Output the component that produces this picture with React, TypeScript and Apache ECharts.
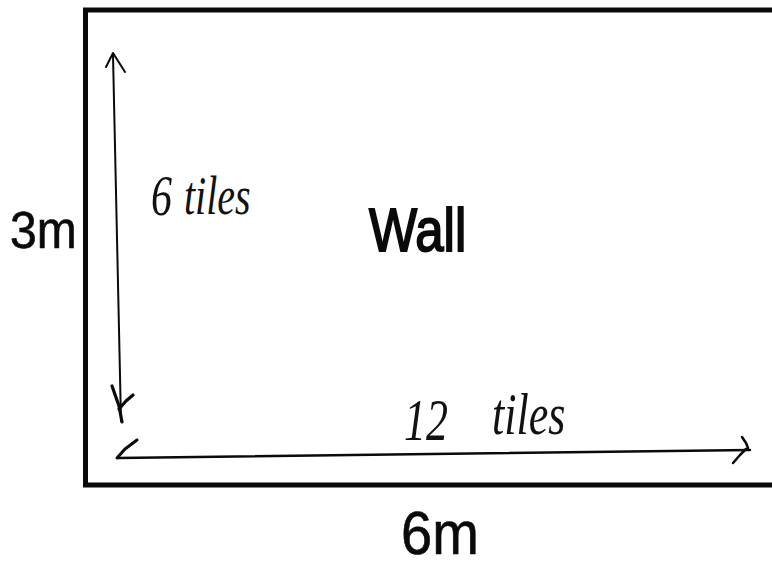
import React, { useEffect, useRef } from "react";
import * as echarts from "echarts";

// Diagram content
const wallLabel = ["Wall"];
const dimensionLabels = ["3m", "6m"]; // height, width
const tileCounts = [6, 12]; // vertical, horizontal
const tileWord = ["tiles"];

export default function App() {
  const ref = useRef<HTMLDivElement>(null);

  useEffect(() => {
    document.body.style.margin = "0";
    const chart = echarts.init(ref.current!, null, { renderer: "svg" });
    const ink = "#0a0a0a";
    const hand = "#111";
    const sans = "'Liberation Sans', Arial, sans-serif";
    const script = "'Liberation Serif', serif";

    const line = (x1: number, y1: number, x2: number, y2: number, w: number, c = ink) => ({
      type: "line",
      shape: { x1, y1, x2, y2 },
      style: { stroke: c, lineWidth: w, lineCap: "round" },
      silent: true,
    });
    const poly = (pts: number[][], w: number, c = ink) => ({
      type: "polyline",
      shape: { points: pts },
      style: { stroke: c, lineWidth: w, lineCap: "round", lineJoin: "round", fill: "none" },
      silent: true,
    });
    const txt = (
      s: string,
      x: number,
      y: number,
      size: number,
      family: string,
      opts: any = {}
    ) => ({
      type: "text",
      x,
      y,
      scaleX: opts.scaleX ?? 1,
      scaleY: opts.scaleY ?? 1,
      style: {
        text: s,
        fill: opts.fill ?? ink,
        font: `${opts.italic ? "italic " : ""}${opts.weight ?? "normal"} ${size}px ${family}`,
        textAlign: opts.align ?? "left",
        textVerticalAlign: "middle",
        stroke: opts.stroke ? ink : undefined,
        lineWidth: opts.stroke ?? 0,
      },
      silent: true,
    });

    chart.setOption({
      animation: false,
      backgroundColor: "#ffffff",
      graphic: [
        // Wall outline (right edge runs off the page)
        {
          type: "rect",
          shape: { x: 85.5, y: 10, width: 800, height: 475 },
          style: { stroke: ink, lineWidth: 5, fill: "none" },
          silent: true,
        },
        // vertical arrow
        line(113, 55, 121, 421, 2),
        poly([[106, 67], [113, 53], [125, 72]], 2),
        poly([[112, 386], [119, 406], [122, 422]], 3.2),
        poly([[133, 395], [126, 401], [119, 409]], 3.2),
        // horizontal arrow
        line(118, 458, 750, 450, 2.5),
        poly([[137, 440], [125, 449], [117, 458]], 3),
        poly([[742, 437], [746, 443], [748, 448]], 2.5),
        poly([[746, 449], [740, 455], [733, 463]], 2.5),
        // Labels
        txt(dimensionLabels[0], 10, 230, 48, sans, { scaleY: 1.08, stroke: 0.6 }),
        txt(dimensionLabels[1], 401, 533, 56, sans, { scaleY: 1.1, stroke: 0.6 }),
        txt(wallLabel[0], 369, 231, 51, sans, { scaleY: 1.18, stroke: 1.6 }),
        // Handwritten notes
        txt(String(tileCounts[0]), 151, 196, 42, script, { italic: true, scaleY: 1.35, fill: hand }),
        txt(tileWord[0], 184, 196, 40, script, { italic: true, scaleY: 1.35, fill: hand }),
        txt(String(tileCounts[1]), 404, 420, 44, script, { italic: true, scaleY: 1.35, fill: hand }),
        txt(tileWord[0], 492, 414, 44, script, { italic: true, scaleY: 1.35, fill: hand }),
      ],
    });
    return () => chart.dispose();
  }, []);

  return <div ref={ref} style={{ width: 772, height: 567 }} />;
}
